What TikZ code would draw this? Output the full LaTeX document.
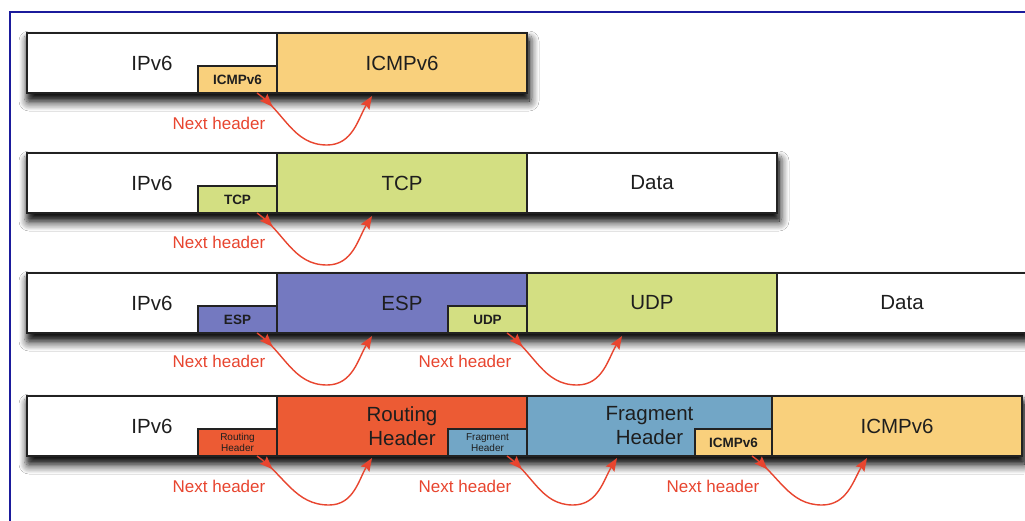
\documentclass[tikz,border=0pt]{standalone}
\usepackage{fontspec}
\setmainfont{Liberation Sans}
\usetikzlibrary{arrows.meta,shadows.blur,decorations.markings,backgrounds}

\definecolor{frameblue}{HTML}{1B1B9C}
\definecolor{icmpfill}{HTML}{F9D07C}
\definecolor{l4fill}{HTML}{D3DF82}
\definecolor{espfill}{HTML}{7479C0}
\definecolor{routefill}{HTML}{EC5B34}
\definecolor{fragfill}{HTML}{72A6C6}
\definecolor{nhred}{HTML}{E8452F}
\definecolor{boxline}{HTML}{222222}
\definecolor{labeltext}{HTML}{1E1E1E}

\tikzset{
  seg/.style={draw=boxline, line width=2pt, rectangle, inner sep=0pt, outer sep=0pt,
    minimum width=#1, minimum height=60pt, text=labeltext,
    font=\fontsize{20.5}{24}\selectfont, align=center},
  seg/.default=250pt,
  tag/.style={draw=boxline, line width=1.6pt, rectangle, inner sep=0pt, outer sep=0pt,
    minimum width=79pt, minimum height=27pt, text=labeltext,
    font=\bfseries\fontsize{13.5}{14}\selectfont, align=center},
  tiny/.style={font=\fontsize{10}{11}\selectfont},
  nhlabel/.style={text=nhred, font=\fontsize{17}{18}\selectfont},
  rowshadow/.style={blur shadow={shadow xshift=2pt, shadow yshift=-8pt,
    shadow blur radius=10pt, shadow blur steps=16, shadow opacity=100}},
  rowshadowcore/.style={blur shadow={shadow xshift=1pt, shadow yshift=-5pt,
    shadow blur radius=4pt, shadow blur steps=8, shadow opacity=55}},
  nharrow/.style={draw=nhred, line width=1.4pt,
    -{Stealth[length=13pt,width=10pt,inset=2pt]},
    postaction={decorate},
    decoration={markings, mark=at position 0.13 with
      {\arrow{Stealth[length=13pt,width=10pt,inset=2pt]}}}},
}

\begin{document}
\begin{tikzpicture}[x=1pt, y=-1pt]
\useasboundingbox (0,0) rectangle (1025,520);
\clip (0,0) rectangle (1025,520);
\begin{scope}[on background layer]
  \fill[white] (0,0) rectangle (1025,520);
\end{scope}

% outer frame, running off the right and bottom edges
\draw[frameblue, line width=2.5pt] (1040,12) -- (10,12) -- (10,540);

% ---------- row 1: IPv6 + ICMPv6 ----------
\node[seg, fill=white]     (a1) at (152,63) {IPv6};
\node[seg, fill=icmpfill]  (a2) at (402,63) {ICMPv6};
\begin{scope}[on background layer]
  \path[rowshadow] (a1.north west) rectangle (a2.south east);
  \path[rowshadowcore] (a1.north west) rectangle (a2.south east);
\end{scope}
\node[tag, fill=icmpfill, anchor=south east] (a1t) at (a1.south east) {ICMPv6};
\node[nhlabel] (a1n) at (219,123) {Next header};
\coordinate (a1s) at ([xshift=-20pt]a1t.south east);
\coordinate (a1b) at ([xshift=70pt,yshift=-52pt]a1s);
\coordinate (a1e) at ([xshift=95pt,yshift=-3pt]a2.south west);
\draw[nharrow] (a1s) to[out=-35,in=180] (a1b) to[out=0,in=-122] (a1e);

% ---------- row 2: IPv6 + TCP + Data ----------
\node[seg, fill=white]  (b1) at (152,183) {IPv6};
\node[seg, fill=l4fill] (b2) at (402,183) {TCP};
\node[seg, fill=white]  (b3) at (652,183) {Data};
\begin{scope}[on background layer]
  \path[rowshadow] (b1.north west) rectangle (b3.south east);
  \path[rowshadowcore] (b1.north west) rectangle (b3.south east);
\end{scope}
\node[tag, fill=l4fill, anchor=south east] (b1t) at (b1.south east) {TCP};
\node[nhlabel] (b1n) at (219,242) {Next header};
\coordinate (b1s) at ([xshift=-20pt]b1t.south east);
\coordinate (b1b) at ([xshift=70pt,yshift=-52pt]b1s);
\coordinate (b1e) at ([xshift=95pt,yshift=-3pt]b2.south west);
\draw[nharrow] (b1s) to[out=-35,in=180] (b1b) to[out=0,in=-122] (b1e);

% ---------- row 3: IPv6 + ESP + UDP + Data ----------
\node[seg, fill=white]   (c1) at (152,303) {IPv6};
\node[seg, fill=espfill] (c2) at (402,303) {ESP};
\node[seg, fill=l4fill]  (c3) at (652,303) {UDP};
\node[seg, fill=white]   (c4) at (902,303) {Data};
\begin{scope}[on background layer]
  \path[rowshadow] (c1.north west) rectangle (c4.south east);
  \path[rowshadowcore] (c1.north west) rectangle (c4.south east);
\end{scope}
\node[tag, fill=espfill, anchor=south east] (c1t) at (c1.south east) {ESP};
\node[tag, fill=l4fill, anchor=south east]  (c2t) at (c2.south east) {UDP};
\node[nhlabel] (c1n) at (219,361) {Next header};
\node[nhlabel] (c2n) at (465,361) {Next header};
\coordinate (c1s) at ([xshift=-20pt]c1t.south east);
\coordinate (c1b) at ([xshift=70pt,yshift=-52pt]c1s);
\coordinate (c1e) at ([xshift=95pt,yshift=-3pt]c2.south west);
\draw[nharrow] (c1s) to[out=-35,in=180] (c1b) to[out=0,in=-122] (c1e);
\coordinate (c2s) at ([xshift=-20pt]c2t.south east);
\coordinate (c2b) at ([xshift=70pt,yshift=-52pt]c2s);
\coordinate (c2e) at ([xshift=95pt,yshift=-3pt]c3.south west);
\draw[nharrow] (c2s) to[out=-35,in=180] (c2b) to[out=0,in=-122] (c2e);

% ---------- row 4: IPv6 + Routing + Fragment + ICMPv6 ----------
\node[seg, fill=white]      (d1) at (152,426) {IPv6};
\node[seg, fill=routefill]  (d2) at (402,426) {Routing\\Header};
\node[seg=245pt, fill=fragfill] (d3) at (649.5,426) {Fragment\\Header};
\node[seg, fill=icmpfill]   (d4) at (897,426) {ICMPv6};
\begin{scope}[on background layer]
  \path[rowshadow] (d1.north west) rectangle (d4.south east);
  \path[rowshadowcore] (d1.north west) rectangle (d4.south east);
\end{scope}
\node[tag, tiny, fill=routefill, anchor=south east] (d1t) at (d1.south east) {Routing\\Header};
\node[tag, tiny, fill=fragfill, anchor=south east]  (d2t) at (d2.south east) {Fragment\\Header};
\node[tag, minimum width=77pt, fill=icmpfill, anchor=south east] (d3t) at (d3.south east) {ICMPv6};
\node[nhlabel] (d1n) at (219,486) {Next header};
\node[nhlabel] (d2n) at (465,486) {Next header};
\node[nhlabel] (d3n) at (713,486) {Next header};
\coordinate (d1s) at ([xshift=-20pt]d1t.south east);
\coordinate (d1b) at ([xshift=72pt,yshift=-49pt]d1s);
\coordinate (d1e) at ([xshift=95pt,yshift=-2pt]d2.south west);
\draw[nharrow] (d1s) to[out=-35,in=180] (d1b) to[out=0,in=-122] (d1e);
\coordinate (d2s) at ([xshift=-20pt]d2t.south east);
\coordinate (d2b) at ([xshift=66pt,yshift=-49pt]d2s);
\coordinate (d2e) at ([xshift=90pt,yshift=-2pt]d3.south west);
\draw[nharrow] (d2s) to[out=-35,in=180] (d2b) to[out=0,in=-122] (d2e);
\coordinate (d3s) at ([xshift=-20pt]d3t.south east);
\coordinate (d3b) at ([xshift=70pt,yshift=-49pt]d3s);
\coordinate (d3e) at ([xshift=95pt,yshift=-2pt]d4.south west);
\draw[nharrow] (d3s) to[out=-35,in=180] (d3b) to[out=0,in=-122] (d3e);
\end{tikzpicture}
\end{document}
